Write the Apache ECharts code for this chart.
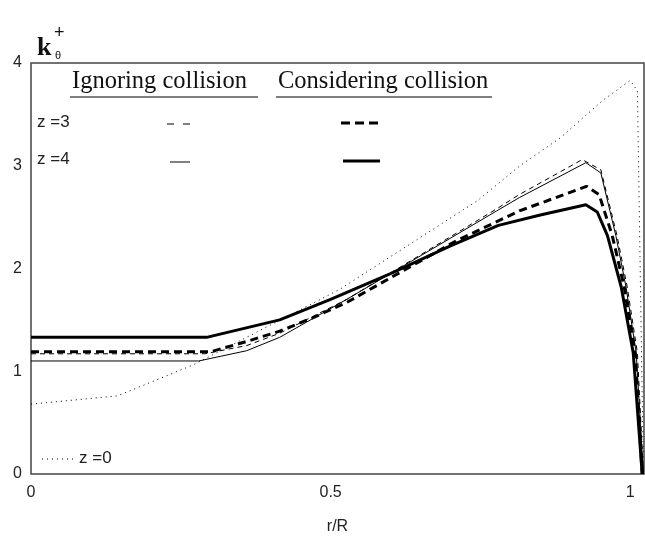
<!DOCTYPE html>
<html>
<head>
<meta charset="utf-8">
<script src="https://cdn.jsdelivr.net/npm/echarts@6/dist/echarts.min.js"></script>
<style>
html,body{margin:0;padding:0;background:#fff;}
#chart{width:645px;height:542px;}
</style>
</head>
<body>
<div id="chart"></div>
<script>
// r/R positions and k_theta+ values
var z0_x = [0, 0.144, 0.27, 0.483, 0.516, 0.745, 0.816, 0.883, 0.955, 1.0, 1.012, 1.022];
var z0_y = [0.68, 0.76, 1.06, 1.70, 1.80, 2.66, 3.00, 3.27, 3.64, 3.83, 3.73, 0];

var z3ign_x = [0, 0.29, 0.36, 0.415, 0.527, 0.777, 0.815, 0.92, 0.951, 0.978, 0.995, 1.012, 1.022];
var z3ign_y = [1.17, 1.17, 1.25, 1.37, 1.70, 2.58, 2.72, 3.06, 2.96, 2.32, 1.82, 1.18, 0];

var z4ign_x = [0, 0.28, 0.36, 0.415, 0.527, 0.777, 0.815, 0.926, 0.951, 0.976, 0.993, 1.01, 1.022];
var z4ign_y = [1.10, 1.10, 1.20, 1.33, 1.70, 2.56, 2.69, 3.03, 2.93, 2.32, 1.82, 1.18, 0];

var z3con_x = [0, 0.30, 0.36, 0.415, 0.47, 0.527, 0.71, 0.815, 0.927, 0.948, 0.97, 0.99, 1.008, 1.02];
var z3con_y = [1.19, 1.19, 1.29, 1.39, 1.52, 1.67, 2.27, 2.56, 2.80, 2.72, 2.32, 1.82, 1.18, 0];

var z4con_x = [0, 0.293, 0.415, 0.5, 0.6, 0.7, 0.78, 0.85, 0.926, 0.945, 0.962, 0.985, 1.005, 1.02];
var z4con_y = [1.33, 1.33, 1.50, 1.70, 1.95, 2.22, 2.42, 2.52, 2.62, 2.55, 2.32, 1.82, 1.18, 0];

var xTicks = [0, 0.5, 1];
var yTicks = [0, 1, 2, 3, 4];

function pairs(xs, ys){ return xs.map(function(x,i){ return [x, ys[i]]; }); }

var chart = echarts.init(document.getElementById('chart'), null, {renderer:'canvas'});
var sansFont = 'Liberation Sans';
var serifFont = 'Liberation Serif';

function lineSeries(name, xs, ys, width, dash){
  return {
    name: name, type: 'line', data: pairs(xs, ys), symbol: 'none', smooth: false,
    silent: true, animation: false,
    lineStyle: {color: '#000', width: width, type: dash}
  };
}

chart.setOption({
  backgroundColor: '#fff',
  animation: false,
  grid: {left: 31, right: 1, top: 63, bottom: 68, show: true, borderColor: '#444', borderWidth: 1.5, backgroundColor: 'transparent'},
  xAxis: {
    type: 'value', min: 0, max: 1.023, interval: 0.5,
    axisLine: {show: false}, axisTick: {show: false}, splitLine: {show: false},
    axisLabel: {
      margin: 11, color: '#222', fontFamily: sansFont, fontSize: 16,
      showMaxLabel: false,
      formatter: function(v){ return xTicks.indexOf(v) >= 0 ? String(v) : ''; }
    },
    name: 'r/R', nameLocation: 'middle', nameGap: 45,
    nameTextStyle: {color: '#222', fontFamily: sansFont, fontSize: 16}
  },
  yAxis: {
    type: 'value', min: 0, max: 4, interval: 1,
    axisLine: {show: false}, axisTick: {show: false}, splitLine: {show: false},
    axisLabel: {
      margin: 9, color: '#222', fontFamily: sansFont, fontSize: 16,
      formatter: function(v){ return yTicks.indexOf(v) >= 0 ? String(v) : ''; }
    }
  },
  series: [
    lineSeries('z=0', z0_x, z0_y, 1, [1, 4]),
    lineSeries('z=3 ignoring', z3ign_x, z3ign_y, 1, [5, 4]),
    lineSeries('z=4 ignoring', z4ign_x, z4ign_y, 1, 'solid'),
    lineSeries('z=3 considering', z3con_x, z3con_y, 3, [8, 5]),
    lineSeries('z=4 considering', z4con_x, z4con_y, 3, 'solid')
  ],
  graphic: [
    {type: 'text', left: 37, top: 35, style: {text: 'k', fontFamily: serifFont, fontSize: 26, fontWeight: 'bold', fill: '#111'}},
    {type: 'text', left: 54, top: 24, style: {text: '+', fontFamily: sansFont, fontSize: 18, fill: '#111'}},
    {type: 'text', left: 55, top: 50, style: {text: 'θ', fontFamily: sansFont, fontSize: 11, fill: '#111'}},
    // legend headers
    {type: 'text', left: 72, top: 69, style: {text: 'Ignoring collision', fontFamily: serifFont, fontSize: 24.5, fill: '#111'}},
    {type: 'line', shape: {x1: 70, y1: 97, x2: 258, y2: 97}, style: {stroke: '#555', lineWidth: 1.5}},
    {type: 'text', left: 278, top: 69, style: {text: 'Considering collision', fontFamily: serifFont, fontSize: 24.5, fill: '#111'}},
    {type: 'line', shape: {x1: 276, y1: 97, x2: 492, y2: 97}, style: {stroke: '#555', lineWidth: 1.5}},
    // rows
    {type: 'text', left: 37, top: 114, style: {text: 'z =3', fontFamily: sansFont, fontSize: 17, fill: '#222'}},
    {type: 'line', shape: {x1: 167, y1: 124, x2: 190, y2: 124}, style: {stroke: '#000', lineWidth: 1, lineDash: [7, 9]}},
    {type: 'line', shape: {x1: 341, y1: 123, x2: 380, y2: 123}, style: {stroke: '#000', lineWidth: 3, lineDash: [9, 5]}},
    {type: 'text', left: 37, top: 151, style: {text: 'z =4', fontFamily: sansFont, fontSize: 17, fill: '#222'}},
    {type: 'line', shape: {x1: 170, y1: 162, x2: 190, y2: 162}, style: {stroke: '#000', lineWidth: 1}},
    {type: 'line', shape: {x1: 343, y1: 161, x2: 380, y2: 161}, style: {stroke: '#000', lineWidth: 3}},
    // z=0
    {type: 'line', shape: {x1: 42, y1: 459, x2: 76, y2: 459}, style: {stroke: '#000', lineWidth: 1, lineDash: [1, 4]}},
    {type: 'text', left: 79, top: 450, style: {text: 'z =0', fontFamily: sansFont, fontSize: 17, fill: '#222'}}
  ]
});
</script>
</body>
</html>
